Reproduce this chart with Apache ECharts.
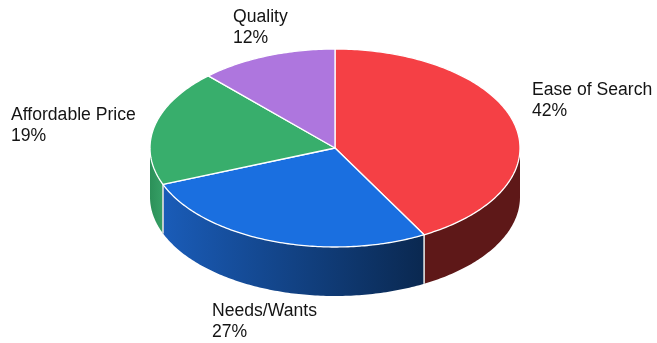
<!DOCTYPE html>
<html>
<head>
<meta charset="utf-8">
<style>html,body{margin:0;padding:0;background:#fff}#c{width:657px;height:343px}</style>
<script src="https://cdn.jsdelivr.net/npm/echarts@6/dist/echarts.min.js"></script>
</head>
<body>
<div id="c"></div>
<script>
const categories = ['Ease of Search', 'Needs/Wants', 'Affordable Price', 'Quality'];
const shares = [42, 27, 19, 12];
const topColors = ['#f54045', '#1a6fe0', '#38ae6c', '#ae76de'];
const wallStops = [['#5e1818', '#5e1818'], ['#1a5cb8', '#0a2850'], ['#2c9059', '#36a066'], ['#7a50a0', '#7a50a0']];

const geo = { cx: 335, cy: 148, rx: 185, ry: 99, depth: 49 };
const labelBoxes = [[532, 79], [212, 300], [11, 104], [233, 6]];

const total = shares.reduce((a, b) => a + b, 0);
const starts = [];
shares.reduce((acc, v, i) => { starts[i] = acc; return acc + v; }, 0);
const toAngle = v => v / total * Math.PI * 2;
const pt = (a, dy) => [geo.cx + geo.rx * Math.sin(a), geo.cy - geo.ry * Math.cos(a) + (dy || 0)];
function arc(a0, a1, dy) {
  const n = Math.max(2, Math.ceil(Math.abs(a1 - a0) / 0.015));
  const out = [];
  for (let i = 0; i <= n; i++) out.push(pt(a0 + (a1 - a0) * i / n, dy));
  return out;
}

function renderItem(params) {
  const i = params.dataIndex;
  const a0 = toAngle(starts[i]);
  const a1 = toAngle(starts[i] + shares[i]);
  const children = [];
  // Visible wall: the front half of the rim, from 90deg to 270deg
  const w0 = Math.max(a0, Math.PI / 2);
  const w1 = Math.min(a1, Math.PI * 1.5);
  if (w1 > w0) {
    const upper = arc(w0, w1, 0);
    const lower = arc(w1, w0, geo.depth);
    children.push({
      type: 'polygon', z2: 1,
      shape: { points: upper.concat(lower) },
      style: {
        fill: new echarts.graphic.LinearGradient(0, 0, 1, 0,
          [{ offset: 0, color: wallStops[i][0] }, { offset: 1, color: wallStops[i][1] }]),
        stroke: null
      }
    });
    [a0, a1].forEach(a => {
      if (a >= Math.PI / 2 && a <= Math.PI * 1.5) {
        const p = pt(a, 0), q = pt(a, geo.depth);
        children.push({
          type: 'line', z2: 2,
          shape: { x1: p[0], y1: p[1], x2: q[0], y2: q[1] },
          style: { stroke: '#dcdcdc', lineWidth: 1.2 }
        });
      }
    });
  }
  // Top face
  children.push({
    type: 'polygon', z2: 3,
    shape: { points: [[geo.cx, geo.cy]].concat(arc(a0, a1, 0)) },
    style: { fill: topColors[i], stroke: '#ffffff', lineWidth: 1.3, lineJoin: 'round' }
  });
  return { type: 'group', children };
}

const chart = echarts.init(document.getElementById('c'), null, { renderer: 'canvas' });
chart.setOption({
  animation: false,
  backgroundColor: '#ffffff',
  series: [{
    type: 'custom',
    coordinateSystem: 'none',
    renderItem,
    data: categories.map((n, i) => ({ name: n, value: shares[i] }))
  }],
  graphic: categories.map((n, i) => ({
    type: 'text', left: labelBoxes[i][0], top: labelBoxes[i][1], silent: true,
    style: {
      text: n + '\n' + shares[i] + '%',
      font: '17.6px "Liberation Sans", Arial, sans-serif',
      fill: '#141414', lineHeight: 21.5
    }
  }))
});
</script>
</body>
</html>
